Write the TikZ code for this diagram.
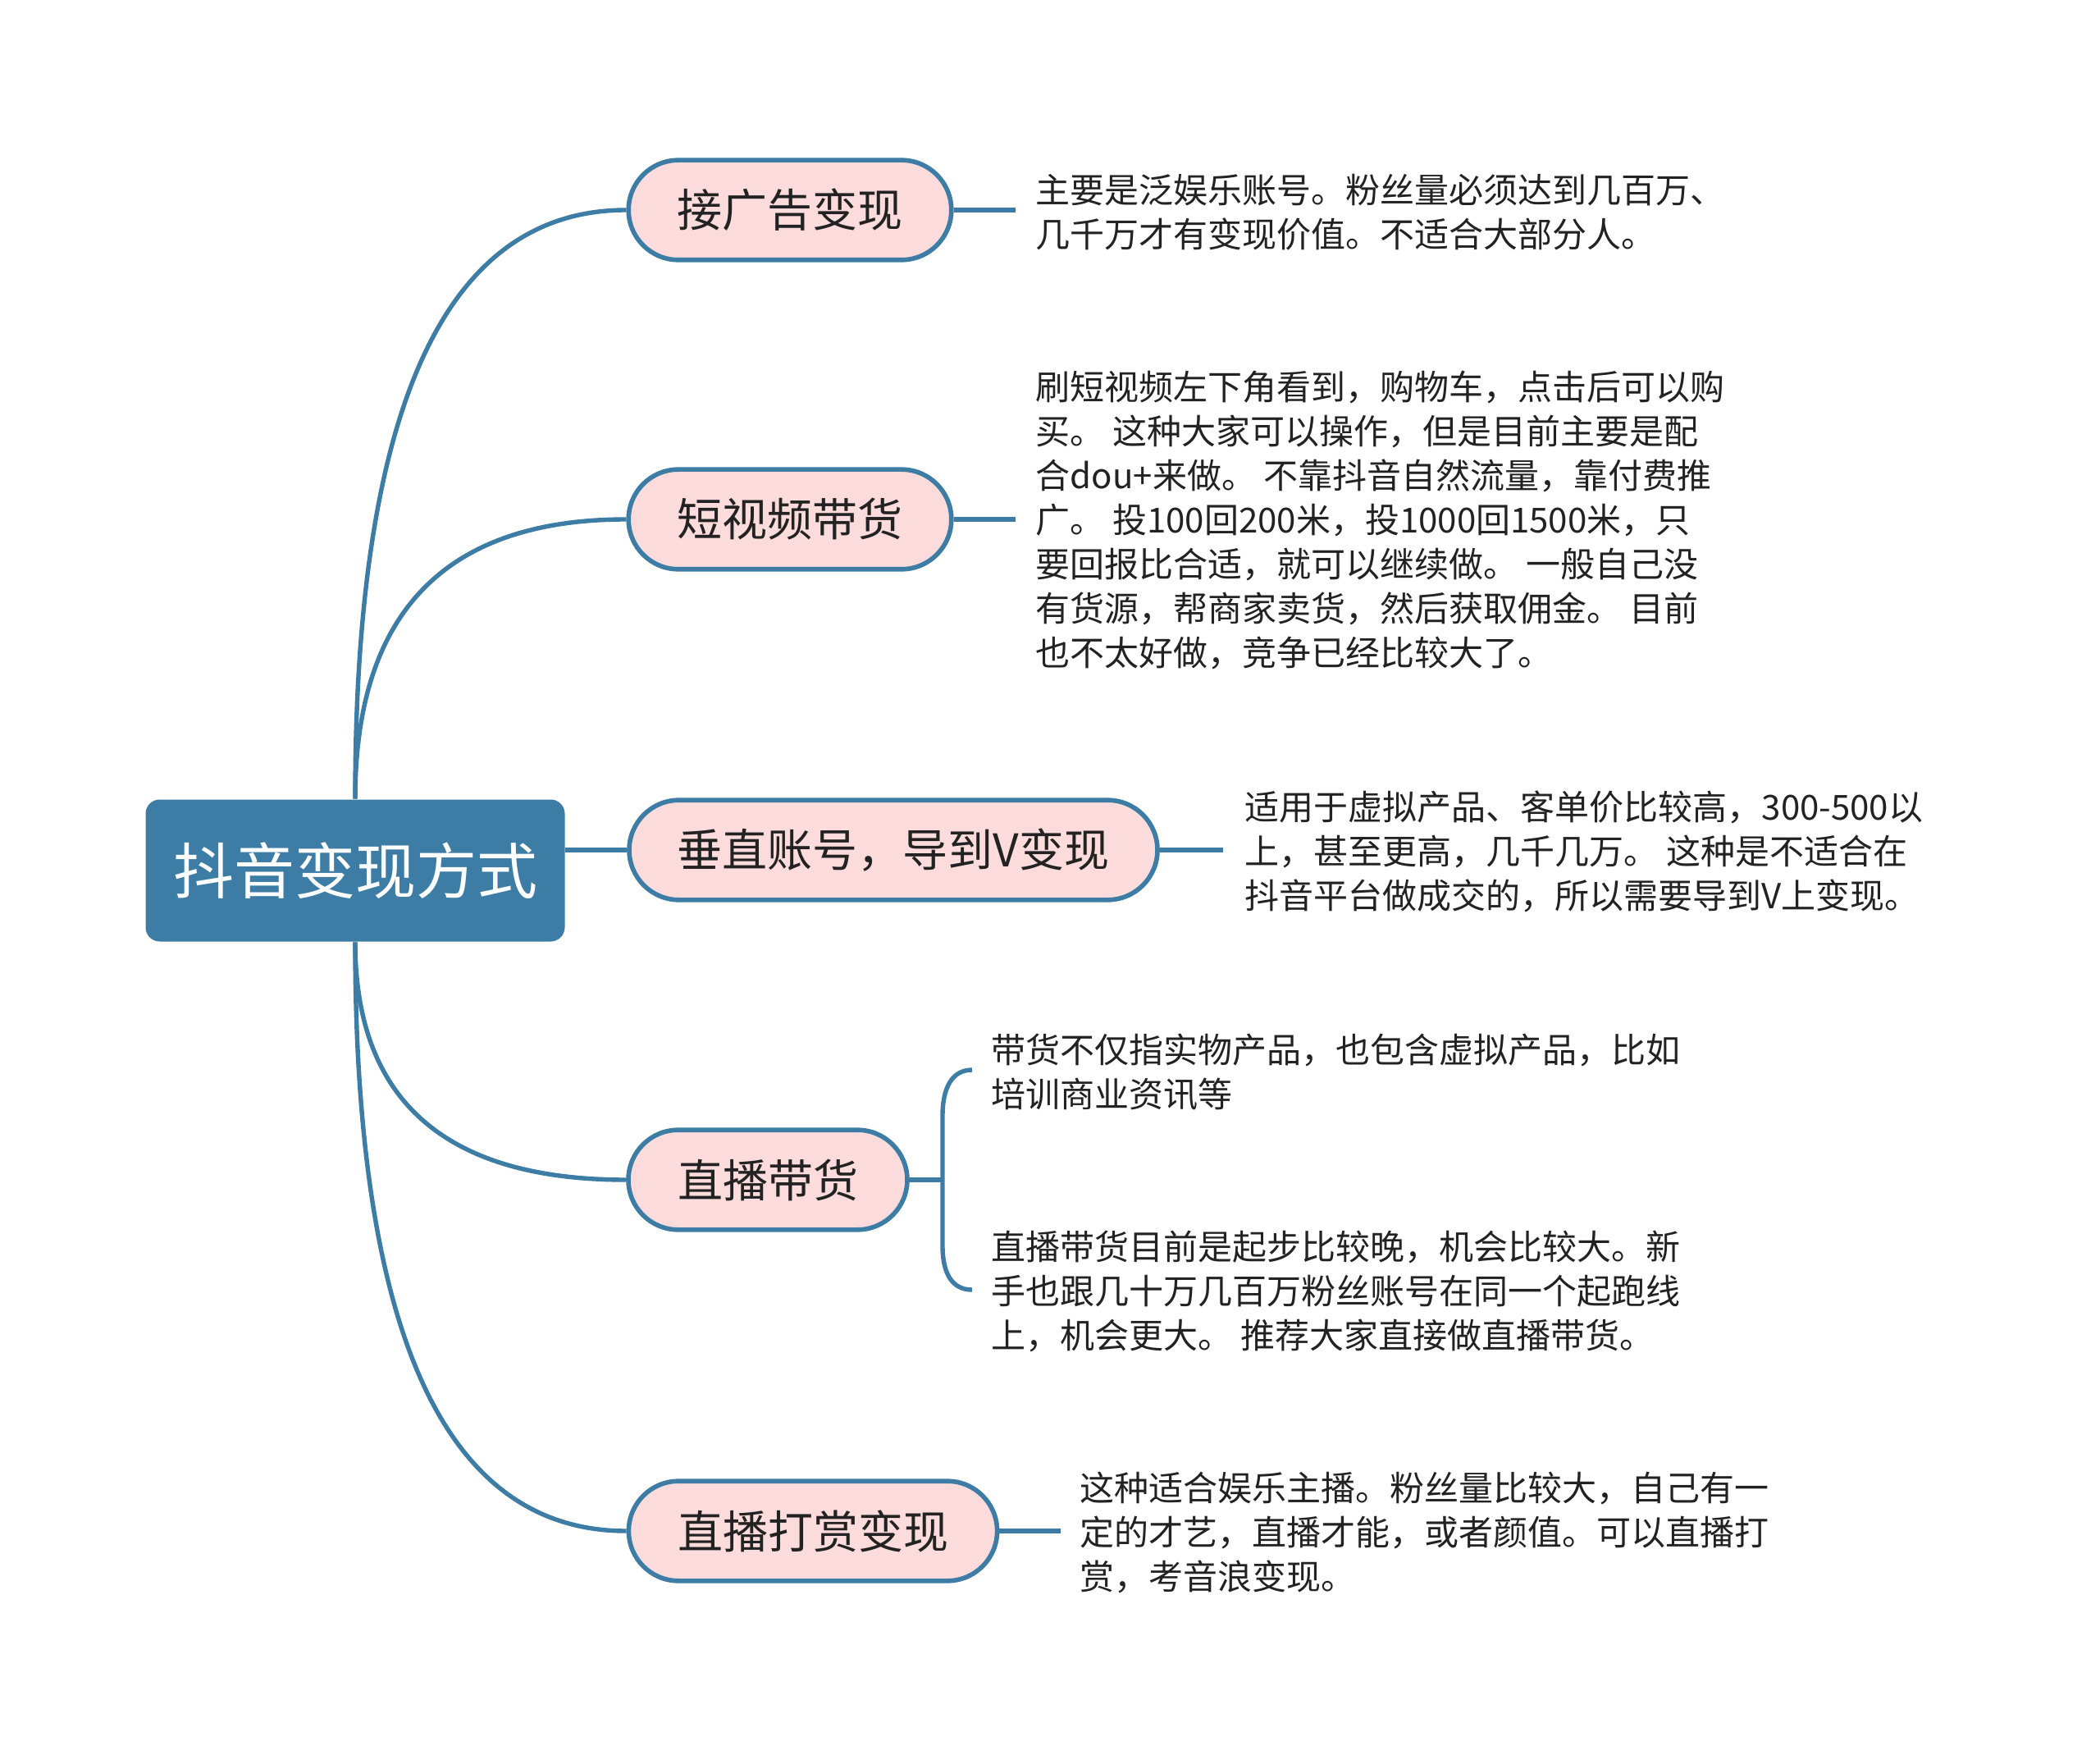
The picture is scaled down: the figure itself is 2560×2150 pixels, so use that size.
\documentclass[tikz,border=0pt]{standalone}
\usepackage{fontspec}
\setmainfont{Noto Sans CJK SC}
\usetikzlibrary{calc}
\definecolor{lineblue}{HTML}{3D7CA5}
\definecolor{pinkfill}{HTML}{FBDBDB}
\definecolor{txt}{HTML}{222222}
\begin{document}
\begin{tikzpicture}[x=0.25pt,y=-0.25pt,
  conn/.style={draw=lineblue,line width=1.35pt},
  rootbox/.style={fill=lineblue,rounded corners=4.3pt,minimum width=127.75pt,minimum height=43.25pt,text=white,font=\fontsize{18.5}{22}\selectfont,inner sep=0pt},
  branch/.style={draw=lineblue,line width=1.4pt,fill=pinkfill,rounded corners=15.2pt,minimum height=30.4pt,text=txt,font=\fontsize{13.75}{16}\selectfont,inner sep=0pt},
  leaf/.style={anchor=west,align=left,text=txt,font=\fontsize{10.5}{13.5}\selectfont,inner sep=0pt}
]
\useasboundingbox[fill=white] (0,0) rectangle (2560,2150);

% root and branches
\node[rootbox] (root) at (433,1061) {抖音变现方式};
\node[branch,minimum width=98.4pt] (b1) at (963,256) {接广告变现};
\node[branch,minimum width=98.4pt] (b2) at (963,633) {短视频带货};
\node[branch,minimum width=161pt] (b3) at (1089,1036) {垂直账号，导到V变现};
\node[branch,minimum width=85pt] (b4) at (936,1438) {直播带货};
\node[branch,minimum width=112.3pt] (b5) at (991,1866) {直播打赏变现};

% leaves
\node[leaf] (l1) at (1262,259) {主要是泛娱乐账号。粉丝量必须达到几百万、\\几千万才有变现价值。不适合大部分人。};
\node[leaf] (l2) at (1262,634) {刷短视频左下角看到，购物车，点击后可以购\\买。 这种大家可以操作，但是目前主要是配\\合dou+来做。 不靠抖音自然流量，靠付费推\\广。 投100回200米，投1000回1500米，只\\要回报比合适，就可以继续做。 一般自己没\\有货源，帮商家卖货，然后获取佣金。 目前\\也不太好做，竞争已经比较大了。};
\node[leaf] (l3) at (1517,1038) {适用于虚拟产品、客单价比较高，300-500以\\上，甚至更高，几千几万。 这种是不适合在\\抖音平台做成交的，所以需要导到V上变现。};
\node[leaf] (l4a) at (1208,1307) {带货不仅指实物产品，也包含虚拟产品，比如\\培训商业资讯等};
\node[leaf] (l4b) at (1208,1574) {直播带货目前是起步比较晚，机会比较大。新\\手也跟几十万几百万粉丝账号在同一个起跑线\\上，机会更大。 推荐大家直接做直播带货。};
\node[leaf] (l5) at (1316,1868) {这种适合娱乐主播。粉丝量比较大，自己有一\\定的才艺，直播才能，或者颜值。可以直播打\\赏，考音浪变现。};

% root to branches
\foreach \b/\s in {b1/north,b2/north,b4/south,b5/south}{
  \draw[conn] (root.\s) .. controls ($(root.\s)!0.6667!(root.\s |- \b.west)$) and ($(\b.west)!0.6667!(root.\s |- \b.west)$) .. (\b.west);
}
\draw[conn] (b3.west -| root.east) -- (b3.west);

% branch to leaves
\coordinate (e1) at (1238,256);
\coordinate (e2) at (1238,633);
\coordinate (e3) at (1491,1036);
\coordinate (e5) at (1293,1866);
\draw[conn] (b1.east) -- (e1);
\draw[conn] (b2.east) -- (e2);
\draw[conn] (b3.east) -- (e3);
\draw[conn] (b5.east) -- (e5);

% brace for b4
\coordinate (k4) at (1149,1438);
\coordinate (t4a) at (1185,1304);
\coordinate (t4b) at (1185,1572);
\draw[conn] (b4.east) -- (k4);
\draw[conn] (t4a) .. controls +(-24,0) and +(0,-35) .. (1149,1360) -- (1149,1518) .. controls +(0,35) and +(-24,0) .. (t4b);
\end{tikzpicture}
\end{document}
